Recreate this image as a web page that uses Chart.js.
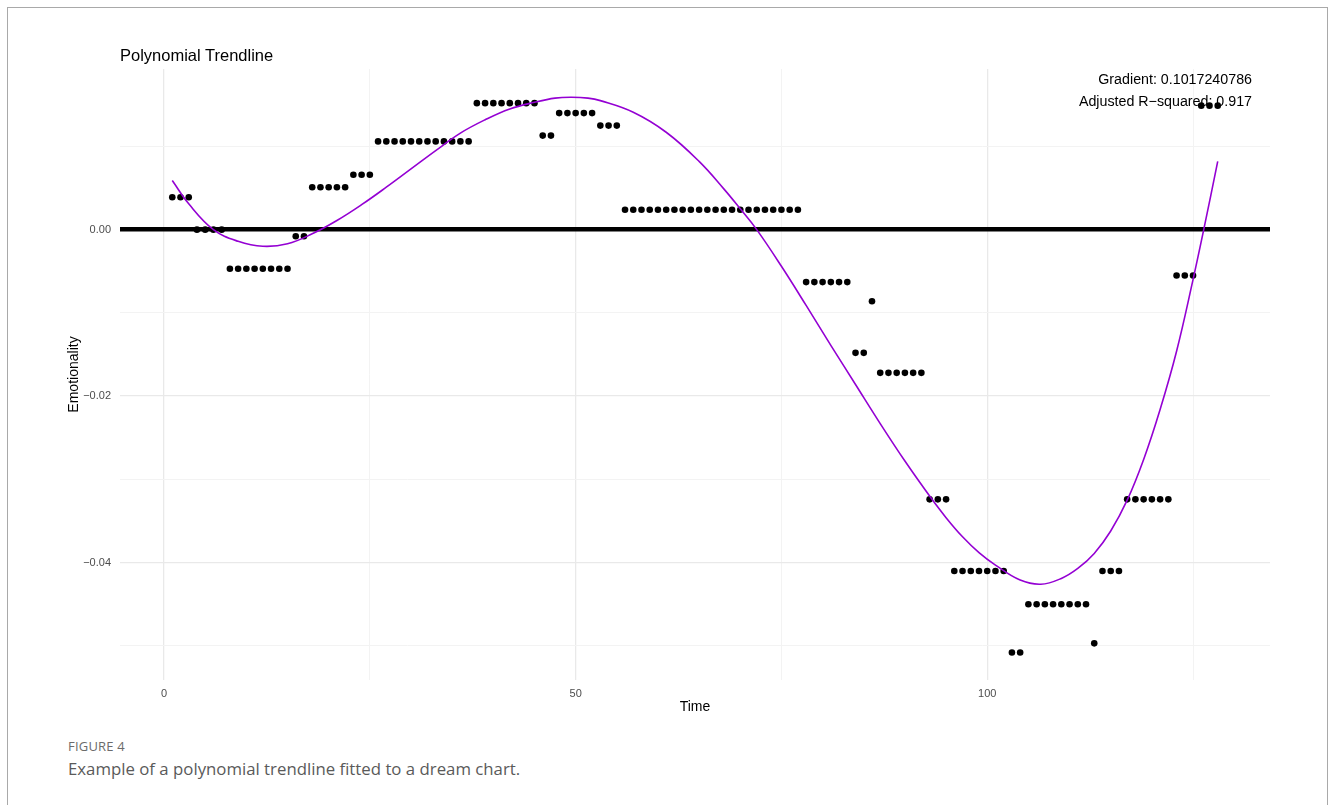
<!DOCTYPE html>
<html>
<head>
<meta charset="utf-8">
<title>Polynomial Trendline</title>
<script src="https://cdn.jsdelivr.net/npm/chart.js@4.4.1/dist/chart.umd.min.js"></script>
<style>
  html, body { margin: 0; padding: 0; background: #ffffff; }
  body { width: 1330px; height: 805px; position: relative; overflow: hidden; font-family: "Liberation Sans", Arial, sans-serif; }
  .frame { position: absolute; left: 7px; top: 7px; width: 1321px; height: 820px; border: 1.5px solid #a9a9a9; box-sizing: border-box; }
  .wrap { position: absolute; left: 0; top: 0; width: 1330px; height: 720px; }
  .title { position: absolute; left: 120px; top: 47px; font-size: 16.5px; line-height: 1; color: #000; white-space: nowrap; }
  .note { position: absolute; right: 78px; font-size: 14.25px; line-height: 1; color: #000; white-space: nowrap; text-align: right; }
  .fig { position: absolute; left: 68px; top: 740px; font-family: "Open Sans", sans-serif; font-size: 13px; line-height: 1; color: #6b6b6b; letter-spacing: 0.2px; }
  .cap { position: absolute; left: 68px; top: 761px; font-family: "Open Sans", sans-serif; font-size: 16.8px; line-height: 1; color: #5a5a5a; white-space: nowrap; }
</style>
</head>
<body>
<div class="frame"></div>
<div class="wrap"><canvas id="chart" width="1330" height="720"></canvas></div>
<div class="title">Polynomial Trendline</div>
<div class="note" style="top:72px">Gradient: 0.1017240786</div>
<div class="note" style="top:94px">Adjusted R−squared: 0.917</div>
<div class="fig">FIGURE 4</div>
<div class="cap">Example of a polynomial trendline fitted to a dream chart.</div>
<script>
// Dream chart: emotionality at each time step
const TIME = [
  1, 2, 3, 4, 5, 6, 7, 8, 9, 10, 11, 12, 13, 14, 15, 16, 17, 18, 19, 20,
  21, 22, 23, 24, 25, 26, 27, 28, 29, 30, 31, 32, 33, 34, 35, 36, 37, 38, 39, 40,
  41, 42, 43, 44, 45, 46, 47, 48, 49, 50, 51, 52, 53, 54, 55, 56, 57, 58, 59, 60,
  61, 62, 63, 64, 65, 66, 67, 68, 69, 70, 71, 72, 73, 74, 75, 76, 77, 78, 79, 80,
  81, 82, 83, 84, 85, 86, 87, 88, 89, 90, 91, 92, 93, 94, 95, 96, 97, 98, 99, 100,
  101, 102, 103, 104, 105, 106, 107, 108, 109, 110, 111, 112, 113, 114, 115, 116, 117, 118, 119, 120,
  121, 122, 123, 124, 125, 126, 127, 128
];
const EMOTIONALITY = [
  0.0039, 0.0039, 0.0039, 0.0000, 0.0000, 0.0000, 0.0000,
  -0.0047, -0.0047, -0.0047, -0.0047, -0.0047, -0.0047, -0.0047, -0.0047,
  -0.0008, -0.0008,
  0.0051, 0.0051, 0.0051, 0.0051, 0.0051,
  0.0066, 0.0066, 0.0066,
  0.0106, 0.0106, 0.0106, 0.0106, 0.0106, 0.0106, 0.0106, 0.0106, 0.0106, 0.0106, 0.0106, 0.0106,
  0.0152, 0.0152, 0.0152, 0.0152, 0.0152, 0.0152, 0.0152, 0.0152,
  0.0113, 0.0113,
  0.0140, 0.0140, 0.0140, 0.0140, 0.0140,
  0.0125, 0.0125, 0.0125,
  0.0024, 0.0024, 0.0024, 0.0024, 0.0024, 0.0024, 0.0024, 0.0024, 0.0024, 0.0024, 0.0024,
  0.0024, 0.0024, 0.0024, 0.0024, 0.0024, 0.0024, 0.0024, 0.0024, 0.0024, 0.0024, 0.0024,
  -0.0063, -0.0063, -0.0063, -0.0063, -0.0063, -0.0063,
  -0.0148, -0.0148,
  -0.0086,
  -0.0172, -0.0172, -0.0172, -0.0172, -0.0172, -0.0172,
  -0.0324, -0.0324, -0.0324,
  -0.0410, -0.0410, -0.0410, -0.0410, -0.0410, -0.0410, -0.0410,
  -0.0508, -0.0508,
  -0.0450, -0.0450, -0.0450, -0.0450, -0.0450, -0.0450, -0.0450, -0.0450,
  -0.0497,
  -0.0410, -0.0410, -0.0410,
  -0.0324, -0.0324, -0.0324, -0.0324, -0.0324, -0.0324,
  -0.0055, -0.0055, -0.0055,
  0.0149, 0.0149, 0.0149
];

// Fitted polynomial trendline, sampled along the time axis
const TREND_TIME = [1, 3, 6, 9, 12, 15, 18, 21, 24, 27, 30, 33, 36, 39, 42, 45, 47.5, 49.5, 51.5, 53,
  57, 61, 65, 68, 70, 72, 75, 78, 81, 84, 87, 90, 93, 95, 97, 99, 101, 104, 106.5, 109,
  111, 113, 115, 117, 119, 121, 123, 125, 126.3, 128];
const TREND_VALUE = [0.0059, 0.0031, 0.0000, -0.0014, -0.0020, -0.0017, -0.0005, 0.0011, 0.0030, 0.0051,
  0.0073, 0.0095, 0.0116, 0.0132, 0.0145, 0.0153, 0.0158, 0.0159, 0.0158, 0.0155,
  0.0141, 0.0117, 0.0082, 0.0049, 0.0025, 0.0000, -0.0044, -0.0091, -0.0139, -0.0186,
  -0.0233, -0.0278, -0.0320, -0.0346, -0.0369, -0.0388, -0.0403, -0.0421, -0.0426, -0.0419,
  -0.0407, -0.0389, -0.0362, -0.0325, -0.0276, -0.0216, -0.0146, -0.0060, 0.0000, 0.0082];

// Axis ticks (major ticks are labelled, minor ones only carry a grid line)
const X_TICKS = [0, 25, 50, 75, 100, 125];
const X_LABELS = ['0', '', '50', '', '100', ''];
const Y_TICKS = [-0.05, -0.04, -0.03, -0.02, -0.01, 0.00, 0.01];
const Y_LABELS = ['', '−0.04', '', '−0.02', '', '0.00', ''];

const points = TIME.map((t, i) => ({ x: t, y: EMOTIONALITY[i] }));
const trend = TREND_TIME.map((t, i) => ({ x: t, y: TREND_VALUE[i] }));

const MAJOR_GRID = '#e9e9e9';
const MINOR_GRID = '#f3f3f3';
const FONT = '"Liberation Sans", Arial, sans-serif';

new Chart(document.getElementById('chart'), {
  type: 'scatter',
  data: {
    datasets: [
      {
        type: 'line',
        data: trend,
        borderColor: '#9400d3',
        borderWidth: 1.6,
        pointRadius: 0,
        fill: false,
        tension: 0.4,
        order: 0
      },
      {
        type: 'scatter',
        data: points,
        backgroundColor: '#000000',
        borderWidth: 0,
        pointRadius: 3.3,
        pointHoverRadius: 3.3,
        order: 1
      }
    ]
  },
  options: {
    responsive: false,
    animation: false,
    devicePixelRatio: 1,
    events: [],
    layout: { padding: { left: 60, right: 60, top: 69, bottom: 0 } },
    plugins: { legend: { display: false }, tooltip: { enabled: false }, title: { display: false } },
    scales: {
      x: {
        type: 'linear',
        min: -5.35,
        max: 134.35,
        afterBuildTicks: s => { s.ticks = X_TICKS.map(v => ({ value: v })); },
        afterFit: s => { s.height = 40; },
        border: { display: false },
        grid: {
          drawTicks: false,
          color: c => (c.index % 2 === 0 ? MAJOR_GRID : MINOR_GRID),
          lineWidth: c => (c.index % 2 === 0 ? 1.3 : 1)
        },
        ticks: {
          autoSkip: false,
          maxRotation: 0,
          padding: 7,
          color: '#4d4d4d',
          font: { family: FONT, size: 11 },
          callback: (v, i) => X_LABELS[i]
        },
        title: {
          display: true,
          text: 'Time',
          color: '#000000',
          font: { family: FONT, size: 14 },
          padding: { top: 0, bottom: 4 }
        }
      },
      y: {
        type: 'linear',
        min: -0.0541,
        max: 0.0193,
        afterBuildTicks: s => { s.ticks = Y_TICKS.map(v => ({ value: v })); },
        afterFit: s => { s.width = 60; },
        border: { display: false },
        grid: {
          drawTicks: false,
          color: c => {
            if (c.tick && Math.abs(c.tick.value) < 1e-9) return '#000000';
            return c.index % 2 === 1 ? MAJOR_GRID : MINOR_GRID;
          },
          lineWidth: c => {
            if (c.tick && Math.abs(c.tick.value) < 1e-9) return 4.5;
            return c.index % 2 === 1 ? 1.3 : 1;
          }
        },
        ticks: {
          padding: 9,
          color: '#4d4d4d',
          font: { family: FONT, size: 11 },
          callback: (v, i) => Y_LABELS[i]
        },
        title: {
          display: true,
          text: 'Emotionality',
          color: '#000000',
          font: { family: FONT, size: 14 },
          padding: { top: 6, bottom: 4 }
        }
      }
    }
  }
});
</script>
</body>
</html>
